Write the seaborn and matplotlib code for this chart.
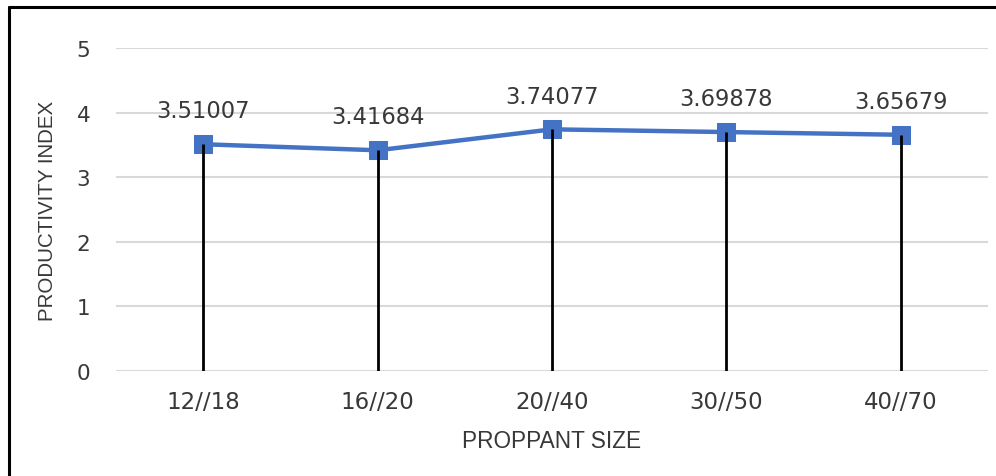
import matplotlib
matplotlib.use("Agg")
import matplotlib.pyplot as plt
import seaborn as sns
import pandas as pd
from matplotlib.lines import Line2D

# ==========================================
# DATA
# ==========================================

sizes = ["12//18", "16//20", "20//40", "30//50", "40//70"]
productivity = [3.51007, 3.41684, 3.74077, 3.69878, 3.65679]
y_ticks = [0, 1, 2, 3, 4, 5]

df = pd.DataFrame({"size": sizes, "pi": productivity})

# ==========================================
# STYLE
# ==========================================

sns.set_style("white")
plt.rcParams["font.family"] = ["DejaVu Sans"]

blue = "#4472C4"
grey_text = "#383838"

fig = plt.figure(figsize=(9.96, 4.77), dpi=100)
ax = fig.add_axes([116 / 996, (477 - 372) / 477, (988 - 116) / 996, (372 - 49) / 477])

# grid
for y in y_ticks:
    ax.axhline(y, color="#D9D9D9", lw=1.5, zorder=0)

# line + markers
sns.lineplot(
    data=df, x="size", y="pi", ax=ax,
    color=blue, lw=3.2, marker="s", markersize=13,
    markeredgecolor=blue, sort=False, zorder=3
)

# black stems
ax.vlines(df["size"], 0, df["pi"], color="black", lw=2, zorder=4)

# data labels
for s, v in zip(sizes, productivity):
    ax.annotate(f"{v:.5f}", (s, v), xytext=(0, 24), textcoords="offset points",
                ha="center", va="center", fontsize=16.3, color=grey_text)

ax.set_xlim(-0.5, len(sizes) - 0.5)
ax.set_ylim(0, 5)
ax.set_yticks(y_ticks)
ax.tick_params(axis="both", length=0, labelcolor=grey_text)
ax.tick_params(axis="x", pad=14, labelsize=16.5)
ax.tick_params(axis="y", pad=18.5, labelsize=15.5)

ax.set_xlabel("PROPPANT SIZE", family="Liberation Sans", fontsize=16.3,
              color=grey_text, labelpad=11)
ax.set_ylabel("PRODUCTIVITY INDEX", family="Liberation Sans", fontsize=14.8,
              color=grey_text, labelpad=14)

sns.despine(ax=ax, left=True, bottom=True)

# outer frame (top and left edges only)
fig.add_artist(Line2D([9 / 996, 1], [1 - 8 / 477, 1 - 8 / 477],
                      transform=fig.transFigure, color="black", lw=2.2))
fig.add_artist(Line2D([9 / 996, 9 / 996], [0, 1 - 8 / 477],
                      transform=fig.transFigure, color="black", lw=2.2))

fig.savefig("out.png", dpi=100)
